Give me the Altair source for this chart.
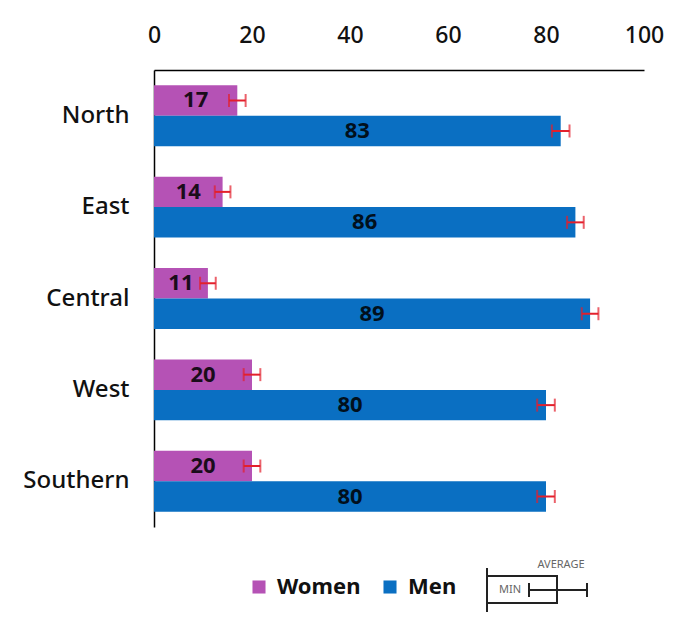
import altair as alt
import pandas as pd

regions = ["North", "East", "Central", "West", "Southern"]
women = [17, 14, 11, 20, 20]
men = [83, 86, 89, 80, 80]
women_err = [1.7, 1.6, 1.6, 1.7, 1.7]
men_err = [1.8, 1.7, 1.7, 1.8, 1.8]
groups = ["Women", "Men"]
colors = ["#B552B5", "#0A6FC2"]
x_ticks = [0, 20, 40, 60, 80, 100]

rows = []
for r, w, m, we, me in zip(regions, women, men, women_err, men_err):
    rows.append({"region": r, "group": "Women", "value": w, "err": we})
    rows.append({"region": r, "group": "Men", "value": m, "err": me})
df = pd.DataFrame(rows)

FONT = "Noto Sans"
RED = "#E3202C"

x_axis = alt.Axis(orient="top", values=x_ticks, grid=False, ticks=False,
                  domainColor="black", domainWidth=1.5, labelFontSize=23,
                  labelFontWeight=500, labelFlush=False,
                  labelPadding=23, labelColor="#111", labelFont=FONT, title=None)
x_scale = alt.Scale(domain=[0, 100], nice=False)

base = alt.Chart(df).encode(
    y=alt.Y("region:N", sort=regions,
            scale=alt.Scale(paddingInner=0.333, paddingOuter=0.167),
            axis=alt.Axis(title=None, domainColor="black", domainWidth=1.5,
                          ticks=False, labelFontSize=24, labelFontWeight=500,
                          labelPadding=25, labelColor="#111", labelFont=FONT)),
    yOffset=alt.YOffset("group:N", sort=groups,
                        scale=alt.Scale(domain=groups, paddingInner=0, paddingOuter=0)),
)

bars = base.mark_bar().encode(
    x=alt.X("value:Q", scale=x_scale, axis=x_axis),
    color=alt.Color("group:N", sort=groups,
                    scale=alt.Scale(domain=groups, range=colors),
                    legend=alt.Legend(orient="none", legendX=94, legendY=506,
                                      direction="horizontal", title=None,
                                      symbolType="square", symbolSize=170,
                                      symbolStrokeWidth=0, labelFontSize=22,
                                      labelFontWeight="bold", labelFont=FONT,
                                      labelColor="#111", columnPadding=18,
                                      labelOffset=7, labelLimit=0)),
)

err_base = base.transform_calculate(lo="datum.value - datum.err",
                                    hi="datum.value + datum.err")
err_line = err_base.mark_rule(color=RED, strokeWidth=2).encode(
    x=alt.X("lo:Q", scale=x_scale, axis=x_axis), x2="hi:Q")
cap_lo = err_base.mark_tick(color=RED, thickness=2, size=13).encode(
    x=alt.X("lo:Q", scale=x_scale, axis=x_axis))
cap_hi = err_base.mark_tick(color=RED, thickness=2, size=13).encode(
    x=alt.X("hi:Q", scale=x_scale, axis=x_axis))

labels = base.transform_calculate(mid="datum.value / 2").mark_text(
    fontSize=22, fontWeight="bold", color="black", opacity=0.85, font=FONT
).encode(x=alt.X("mid:Q", scale=x_scale, axis=x_axis), text="value:Q")

# key explaining the error bars
deco = alt.Chart(alt.Data(values=[{}]))
INK = "#222"
box = deco.mark_rect(fill="transparent", stroke=INK, strokeWidth=2).encode(
    x=alt.value(333), x2=alt.value(403), y=alt.value(506), y2=alt.value(533))
vline = deco.mark_rule(color=INK, strokeWidth=2).encode(
    x=alt.value(333), y=alt.value(498), y2=alt.value(542))
hline = deco.mark_rule(color=INK, strokeWidth=2).encode(
    x=alt.value(375), x2=alt.value(433), y=alt.value(520))
cap1 = deco.mark_rule(color=INK, strokeWidth=2).encode(
    x=alt.value(375), y=alt.value(513), y2=alt.value(527))
cap2 = deco.mark_rule(color=INK, strokeWidth=2).encode(
    x=alt.value(433), y=alt.value(513), y2=alt.value(527))
min_txt = deco.mark_text(text="MIN", fontSize=11, color="#666", font=FONT).encode(
    x=alt.value(356), y=alt.value(520))
avg_txt = deco.mark_text(text="AVERAGE", fontSize=11, color="#666", font=FONT).encode(
    x=alt.value(407), y=alt.value(495))

chart = alt.layer(
    bars, err_line, cap_lo, cap_hi, labels,
    box, vline, hline, cap1, cap2, min_txt, avg_txt
).properties(
    width=490, height=457,
    padding={"left": 146, "top": 62, "right": 40, "bottom": 90},
    autosize=alt.AutoSizeParams(type="none"),
    background="white",
).configure(
    font=FONT,
    view=alt.ViewConfig(stroke="transparent", strokeWidth=0),
)

chart.save("out.html", embed_options={"renderer": "svg", "actions": False})
